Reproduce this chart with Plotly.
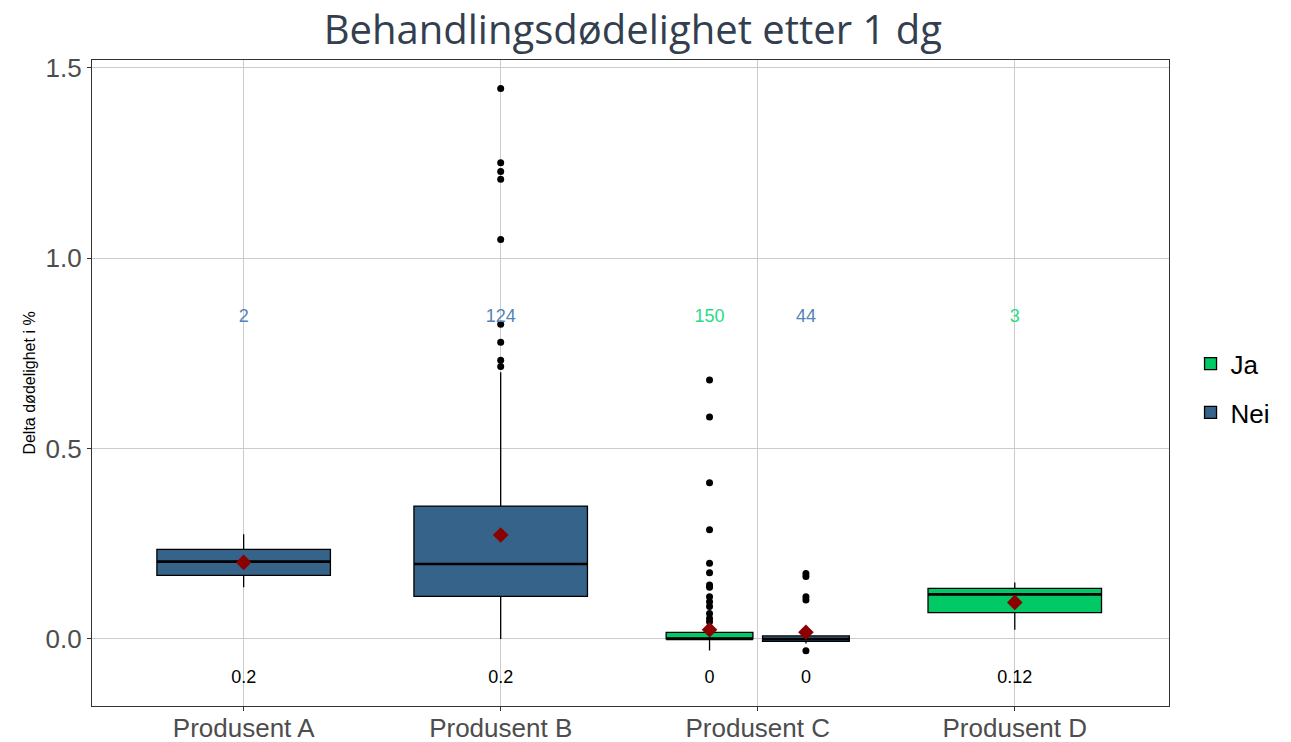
import plotly.graph_objects as go

# ---- data ----
categories = ["Produsent A", "Produsent B", "Produsent C", "Produsent D"]
groups = ["Nei", "Nei", "Ja", "Nei", "Ja"]
group_cat = ["Produsent A", "Produsent B", "Produsent C", "Produsent C", "Produsent D"]
q1 = [0.167, 0.112, 0.0, -0.006, 0.069]
medians = [0.203, 0.197, 0.0, 0.0, 0.117]
q3 = [0.235, 0.349, 0.0175, 0.008, 0.133]
lower = [0.136, 0.0, -0.03, -0.012, 0.024]
upper = [0.275, 0.70, 0.04, 0.015, 0.148]
means = [0.201, 0.273, 0.024, 0.0175, 0.096]
counts = ["2", "124", "150", "44", "3"]
median_labels = ["0.2", "0.2", "0", "0", "0.12"]
outliers = [
    [],
    [1.445, 1.250, 1.227, 1.207, 1.049, 0.826, 0.779, 0.732, 0.715],
    [0.680, 0.583, 0.410, 0.287, 0.199, 0.174, 0.142, 0.136, 0.111, 0.098, 0.085, 0.067, 0.054, 0.045],
    [0.172, 0.164, 0.111, 0.102, -0.031],
    [],
]

colors = {"Ja": "#00C966", "Nei": "#356389"}
text_colors = {"Ja": "#2CDB85", "Nei": "#5384B5"}

# positions: single-group categories centered, dodge for Produsent C
dodge = {"Produsent C": {"Ja": -0.1875, "Nei": 0.1875}}
full_w = 0.675
pos, widths = [], []
for g, c in zip(groups, group_cat):
    base = categories.index(c) + 1
    if c in dodge:
        pos.append(base + dodge[c][g])
        widths.append(full_w / 2)
    else:
        pos.append(base)
        widths.append(full_w)

fig = go.Figure()
shown = set()
order = sorted(range(len(groups)), key=lambda i: 0 if groups[i] == "Ja" else 1)
for i in order:
    g = groups[i]
    fig.add_trace(go.Box(
        x=[pos[i]], q1=[q1[i]], median=[medians[i]], q3=[q3[i]],
        lowerfence=[lower[i]], upperfence=[upper[i]],
        width=widths[i], name=g, legendgroup=g, showlegend=g not in shown,
        fillcolor=colors[g], line=dict(color="black", width=1.3),
        whiskerwidth=0, boxpoints=False, hoverinfo="skip",
    ))
    shown.add(g)
    # thicker median line
    fig.add_trace(go.Scatter(
        x=[pos[i] - widths[i] / 2, pos[i] + widths[i] / 2], y=[medians[i], medians[i]],
        mode="lines", line=dict(color="black", width=2.6), showlegend=False,
        legendgroup=g, hoverinfo="skip"))
    if outliers[i]:
        fig.add_trace(go.Scatter(
            x=[pos[i]] * len(outliers[i]), y=outliers[i], mode="markers",
            marker=dict(color="black", size=7), showlegend=False,
            legendgroup=g, hoverinfo="skip"))

# means
fig.add_trace(go.Scatter(x=pos, y=means, mode="markers",
                         marker=dict(symbol="diamond", color="#8B0000", size=12),
                         showlegend=False, hoverinfo="skip"))
# counts
fig.add_trace(go.Scatter(x=pos, y=[0.843] * len(pos), mode="text", text=counts,
                         textfont=dict(family="Liberation Sans, Arial", size=18,
                                       color=[text_colors[g] for g in groups]),
                         showlegend=False, hoverinfo="skip"))
# median labels
fig.add_trace(go.Scatter(x=pos, y=[-0.105] * len(pos), mode="text", text=median_labels,
                         textfont=dict(family="Liberation Sans, Arial", size=18, color="black"),
                         showlegend=False, hoverinfo="skip"))

# page body has an 8px default margin -> figure sits at (8, 8)
fig.update_layout(
    width=1283, height=734,
    margin=dict(l=84, r=122, t=52, b=36),
    paper_bgcolor="white", plot_bgcolor="white",
    boxmode="overlay",
    title=dict(text="Behandlingsdødelighet etter 1 dg", x=0.487, xanchor="center",
               y=0.970, yanchor="middle", automargin=False,
               font=dict(family="Open Sans, Lato, sans-serif", size=40, color="#333F4F")),
    legend=dict(x=1.02, y=0.492, yanchor="middle", xanchor="left",
                font=dict(family="Liberation Sans, Arial", size=26, color="black"),
                traceorder="grouped", tracegroupgap=12, itemwidth=30),
    xaxis=dict(range=[0.41, 4.6], tickvals=[1, 2, 3, 4], ticktext=categories,
               automargin=False, ticklabelstandoff=-5,
               showgrid=True, gridcolor="#CCCCCC", gridwidth=1,
               showline=True, linecolor="#333333", linewidth=1.2, mirror=True,
               ticks="outside", ticklen=4, tickcolor="#333333", zeroline=False,
               tickfont=dict(family="Liberation Sans, Arial", size=26, color="#4D4D4D")),
    yaxis=dict(range=[-0.176, 1.52], tickvals=[0, 0.5, 1.0, 1.5],
               ticktext=["0.0", "0.5", "1.0", "1.5"], automargin=False,
               showgrid=True, gridcolor="#CCCCCC", gridwidth=1,
               showline=True, linecolor="#333333", linewidth=1.2, mirror=True,
               ticks="outside", ticklen=4, tickcolor="#333333", zeroline=False,
               tickfont=dict(family="Liberation Sans, Arial", size=26, color="#4D4D4D"),
               title=dict(text="Delta dødelighet i %", standoff=5,
                          font=dict(family="Liberation Sans, Arial", size=16, color="black"))),
)

fig.write_html("out.html")
